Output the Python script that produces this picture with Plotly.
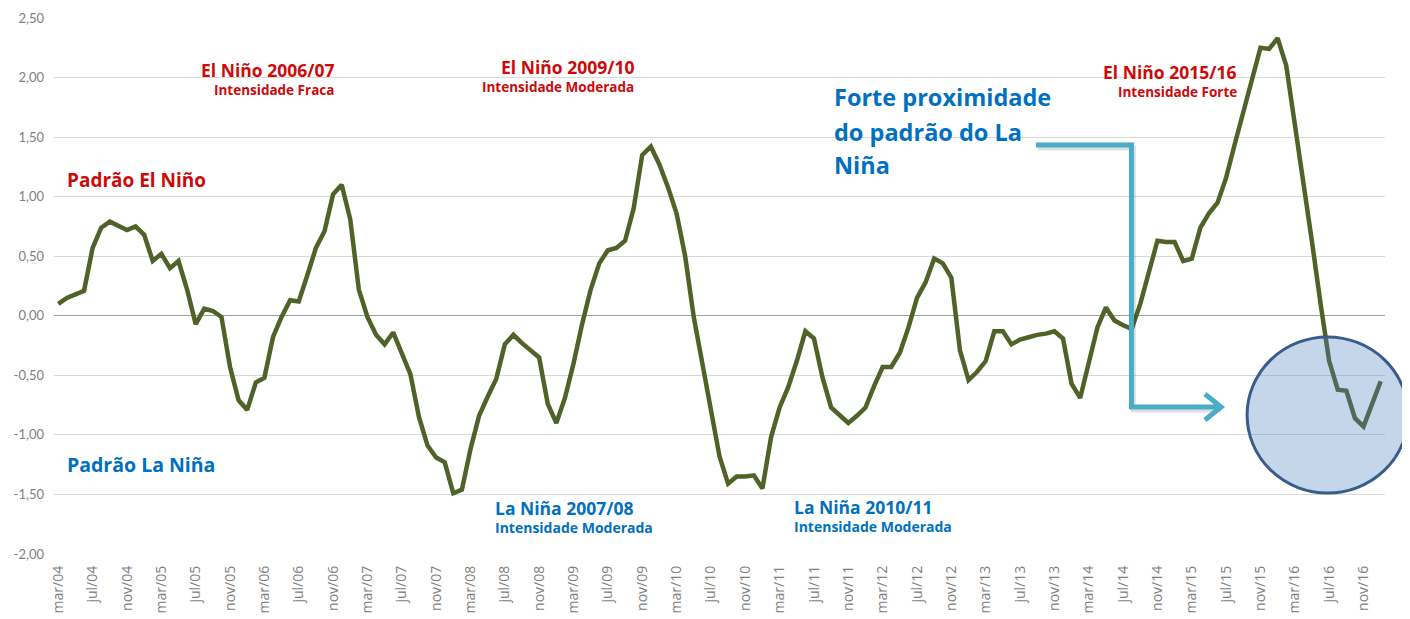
import plotly.graph_objects as go

# monthly index, mar/2004 .. jan/2017
month_names = ["jan", "fev", "mar", "abr", "mai", "jun",
               "jul", "ago", "set", "out", "nov", "dez"]
months = []
for k in range(155):
    m = (2 + k) % 12
    y = 2004 + (2 + k) // 12
    months.append(f"{month_names[m]}/{y % 100:02d}")

anomaly = [
    0.10, 0.15, 0.18, 0.21, 0.57, 0.74, 0.79, 0.75, 0.72, 0.75,
    0.68, 0.46, 0.52, 0.40, 0.46, 0.22, -0.07, 0.06, 0.04, -0.01,
    -0.43, -0.71, -0.79, -0.56, -0.52, -0.18, -0.01, 0.13, 0.12, 0.34,
    0.57, 0.71, 1.02, 1.10, 0.81, 0.22, -0.01, -0.16, -0.24, -0.14,
    -0.32, -0.49, -0.85, -1.09, -1.19, -1.23, -1.49, -1.46, -1.12, -0.84,
    -0.68, -0.53, -0.24, -0.16, -0.23, -0.29, -0.35, -0.74, -0.90, -0.69,
    -0.40, -0.07, 0.22, 0.44, 0.55, 0.57, 0.63, 0.90, 1.35, 1.42,
    1.27, 1.08, 0.86, 0.50, -0.01, -0.40, -0.80, -1.18, -1.41, -1.35,
    -1.35, -1.34, -1.45, -1.02, -0.77, -0.60, -0.38, -0.13, -0.19, -0.52,
    -0.77, -0.84, -0.90, -0.84, -0.77, -0.59, -0.43, -0.43, -0.31, -0.10,
    0.15, 0.28, 0.48, 0.44, 0.32, -0.29, -0.54, -0.47, -0.38, -0.13,
    -0.13, -0.24, -0.20, -0.18, -0.16, -0.15, -0.13, -0.19, -0.57, -0.69,
    -0.40, -0.10, 0.07, -0.04, -0.08, -0.11, 0.10, 0.35, 0.63, 0.62,
    0.62, 0.46, 0.48, 0.74, 0.86, 0.95, 1.16, 1.44, 1.71, 1.99,
    2.25, 2.24, 2.33, 2.10, 1.62, 1.12, 0.62, 0.10, -0.38, -0.62,
    -0.63, -0.86, -0.93, -0.74, -0.55,
]

tick_labels = months[::4]
y_ticks = [2.5, 2.0, 1.5, 1.0, 0.5, 0.0, -0.5, -1.0, -1.5, -2.0]
y_ticktext = [f"{v:.2f}".replace(".", ",") for v in y_ticks]

RED = "#CC0A0A"
BLUE = "#0070C0"
CYAN = "#4BACC6"
FONT = "'Open Sans', Lato, sans-serif"

fig = go.Figure()
fig.add_trace(go.Scatter(
    x=months, y=anomaly, mode="lines",
    line=dict(color="#4F6228", width=4.5),
    hoverinfo="x+y", showlegend=False,
))


def note(text, x, y, color, size, anchor="left"):
    fig.add_annotation(
        text=f"<b>{text}</b>", x=x, y=y, xref="x", yref="y",
        xanchor=anchor, yanchor="middle", showarrow=False,
        font=dict(family=FONT, size=size, color=color),
    )


# red (El Niño) labels
note("Padrão El Niño", 0.8, 1.142, RED, 19)
note("El Niño 2006/07", 32.3, 2.066, RED, 17.5, "right")
note("Intensidade Fraca", 32.3, 1.898, RED, 13.5, "right")
note("El Niño 2009/10", 67.3, 2.09, RED, 17.5, "right")
note("Intensidade Moderada", 67.3, 1.923, RED, 13.5, "right")
note("El Niño 2015/16", 137.4, 2.049, RED, 17.5, "right")
note("Intensidade Forte", 137.5, 1.881, RED, 13.5, "right")

# blue (La Niña) labels
note("Padrão La Niña", 0.8, -1.251, BLUE, 19.5)
note("La Niña 2007/08", 50.6, -1.612, BLUE, 17.5)
note("Intensidade Moderada", 50.6, -1.78, BLUE, 14)
note("La Niña 2010/11", 85.4, -1.604, BLUE, 17.5)
note("Intensidade Moderada", 85.4, -1.772, BLUE, 14)
note("Forte proximidade", 90.1, 1.839, BLUE, 23.5)
note("do padrão do La", 90.1, 1.545, BLUE, 23.5)
note("Niña", 90.1, 1.268, BLUE, 23.5)

# elbow arrow (paper coords), with a soft shadow
arrow = "M 0.7377,0.7631 L 0.8095,0.7631 L 0.8095,0.2743 L 0.8753,0.2743"
head = "M 0.8647,0.2985 L 0.8768,0.2743 L 0.8647,0.2500"
shadow = "M 0.7392,0.7575 L 0.8110,0.7575 L 0.8110,0.2687 L 0.8768,0.2687"
fig.add_shape(type="path", path=shadow, xref="paper", yref="paper",
              line=dict(color="rgba(0,0,0,0.12)", width=5))
fig.add_shape(type="path", path=arrow, xref="paper", yref="paper",
              line=dict(color=CYAN, width=5))
fig.add_shape(type="path", path=head, xref="paper", yref="paper",
              line=dict(color=CYAN, width=5))

# highlight circle over the 2016 La Niña onset
fig.add_shape(type="circle", xref="paper", yref="paper",
              x0=0.8964, x1=1.0174, y0=0.1138, y1=0.4049,
              fillcolor="rgba(79,129,189,0.32)",
              line=dict(color="#385D8A", width=3))

# page body adds an 8px offset, so the figure is sized to compensate
fig.update_layout(
    width=1402, height=611,
    margin=dict(l=46, r=25, t=10, b=65),
    plot_bgcolor="white", paper_bgcolor="white",
    font=dict(family=FONT, size=13, color="#808080"),
    xaxis=dict(
        type="category", range=[-0.5, 154.5],
        tickmode="array", tickvals=tick_labels, ticktext=tick_labels,
        tickangle=-90, showgrid=False, showline=False, ticks="",
        ticklabelstandoff=8, automargin=False,
        tickfont=dict(family=FONT, size=14, color="#808080"),
    ),
    yaxis=dict(
        range=[-2.0, 2.5], tickmode="array",
        tickvals=y_ticks, ticktext=y_ticktext,
        showgrid=True, gridcolor="#D9D9D9", gridwidth=1,
        zeroline=True, zerolinecolor="#A0A0A0", zerolinewidth=1.2,
        showline=False, ticks="", ticklabelstandoff=9, automargin=False,
        tickfont=dict(family="Lato, sans-serif", size=13, color="#808080"),
    ),
)

fig.write_html("out.html")
